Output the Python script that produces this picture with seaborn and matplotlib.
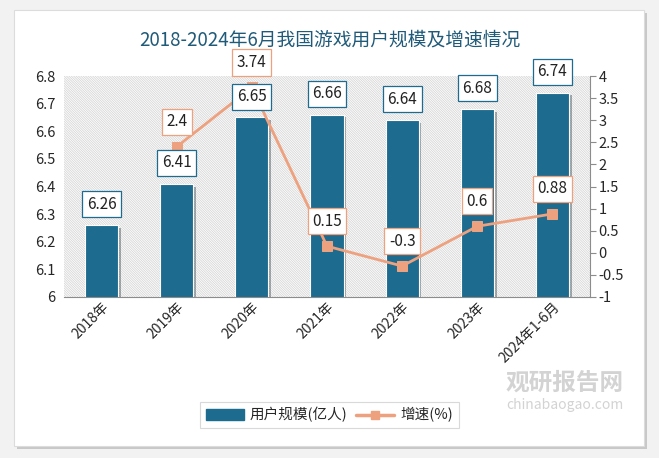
import matplotlib
matplotlib.use('Agg')
import matplotlib.pyplot as plt
import matplotlib.patheffects as pe
from matplotlib.patches import Rectangle, FancyBboxPatch
from matplotlib.lines import Line2D
import seaborn as sns
import pandas as pd

# 数据
years = ['2018年', '2019年', '2020年', '2021年', '2022年', '2023年', '2024年1-6月']
users = [6.26, 6.41, 6.65, 6.66, 6.64, 6.68, 6.74]
growth = [None, 2.4, 3.74, 0.15, -0.3, 0.6, 0.88]
left_ticks = [6, 6.1, 6.2, 6.3, 6.4, 6.5, 6.6, 6.7, 6.8]
right_ticks = [-1, -0.5, 0, 0.5, 1, 1.5, 2, 2.5, 3, 3.5, 4]

sns.set_style('white')
plt.rcParams['font.family'] = ['Noto Sans CJK SC', 'DejaVu Sans']
plt.rcParams['axes.unicode_minus'] = False
plt.rcParams['hatch.linewidth'] = 0.6

bar_color = '#1d6b8f'
line_color = '#eda17f'
title_color = '#1f5a78'

df = pd.DataFrame({'year': years, 'users': users, 'growth': growth})

fig = plt.figure(figsize=(6.59, 4.58), dpi=100)
fig.patch.set_facecolor('#f2f2f2')

# 白色卡片 + 阴影
card = FancyBboxPatch((14 / 659, 12 / 458), 630 / 659, 436 / 458,
                      boxstyle='square,pad=0', transform=fig.transFigure,
                      facecolor='white', edgecolor='#dcdcdc', linewidth=0.8, zorder=-10,
                      path_effects=[pe.SimplePatchShadow(offset=(2, -2), alpha=0.25), pe.Normal()])
fig.patches.append(card)

ax = fig.add_axes([64 / 659, 1 - 297 / 458, 526 / 659, 221 / 458])
ax.set_facecolor('none')
ax.add_patch(Rectangle((0, 0), 1, 1, transform=ax.transAxes, facecolor='white',
                       edgecolor='#d6d6d6', hatch='\\' * 14, linewidth=0, zorder=0))

sns.barplot(data=df, x='year', y='users', color=bar_color, width=0.44, ax=ax,
            saturation=1, zorder=2)
for p in ax.patches[1:]:
    p.set_path_effects([pe.SimplePatchShadow(offset=(2, -2), alpha=0.35), pe.Normal()])
    p.set_edgecolor('white')
    p.set_linewidth(0.8)

ax.set_ylim(6, 6.8)
ax.set_yticks(left_ticks)
ax.set_yticklabels([f'{t:g}' for t in left_ticks], fontsize=10.5)
ax.set_xlabel('')
ax.set_ylabel('')
ax.tick_params(axis='x', length=0, labelsize=10, pad=2)
plt.setp(ax.get_xticklabels(), rotation=45, ha='right', rotation_mode='anchor')
ax.tick_params(axis='y', length=0, pad=6)
for s in ['top', 'left', 'right']:
    ax.spines[s].set_visible(False)
ax.spines['bottom'].set_color('#8c8c8c')
ax.set_xlim(-0.5, len(years) - 0.5)

ax2 = ax.twinx()
sns.lineplot(data=df.dropna(), x='year', y='growth', color=line_color, lw=2,
             marker='s', markersize=7, markeredgecolor=line_color, ax=ax2, zorder=4)
ax2.set_ylim(-1, 4)
ax2.set_yticks(right_ticks)
ax2.set_yticklabels([f'{t:g}' for t in right_ticks], fontsize=10.5)
ax2.set_ylabel('')
ax2.set_xlabel('')
for s in ['top', 'left', 'bottom']:
    ax2.spines[s].set_visible(False)
ax2.spines['right'].set_color('#8c8c8c')
ax2.tick_params(axis='y', length=4, color='#8c8c8c', pad=2)
ax2.set_xlim(-0.5, len(years) - 0.5)

# 柱状标签（画在折线上方）
for i, v in enumerate(users):
    ax2.annotate(f'{v:g}', (i, v), xycoords=ax.transData, xytext=(0, 15),
                 textcoords='offset points', ha='center', va='center',
                 fontsize=11, color='#222222', zorder=5,
                 bbox=dict(boxstyle='square,pad=0.3', fc='white', ec=bar_color, lw=0.9))

for i, v in enumerate(growth):
    if v is None:
        continue
    ax2.annotate(f'{v:g}', (i, v), xytext=(0, 18), textcoords='offset points',
                 ha='center', va='center', fontsize=11, color='#222222', zorder=6,
                 bbox=dict(boxstyle='square,pad=0.3', fc='white', ec=line_color, lw=0.9))

fig.text(0.5, 1 - 40 / 458, '2018-2024年6月我国游戏用户规模及增速情况',
         ha='center', va='center', fontsize=13.5, color=title_color)

# 水印
fig.text(565 / 659, 1 - 383 / 458, '观研报告网', ha='center', va='center',
         fontsize=17, fontweight='bold', color='#c8c8c8', alpha=0.8)
fig.text(565 / 659, 1 - 405 / 458, 'chinabaogao.com', ha='center', va='center',
         fontsize=10, color='#c8c8c8', alpha=0.8)

handles = [Rectangle((0, 0), 1, 1, color=bar_color),
           Line2D([0], [0], color=line_color, lw=2.5, marker='s', markersize=6)]
leg = fig.legend(handles, ['用户规模(亿人)', '增速(%)'], loc='center',
                 bbox_to_anchor=(0.5, 1 - 415 / 458), ncol=2, frameon=True,
                 fancybox=False, edgecolor='#d0d0d0', fontsize=10.5,
                 handlelength=2.6, columnspacing=0.6, handletextpad=0.4,
                 borderpad=0.4)
leg.get_frame().set_linewidth(0.8)

fig.savefig('out.png', dpi=100, facecolor=fig.get_facecolor())
